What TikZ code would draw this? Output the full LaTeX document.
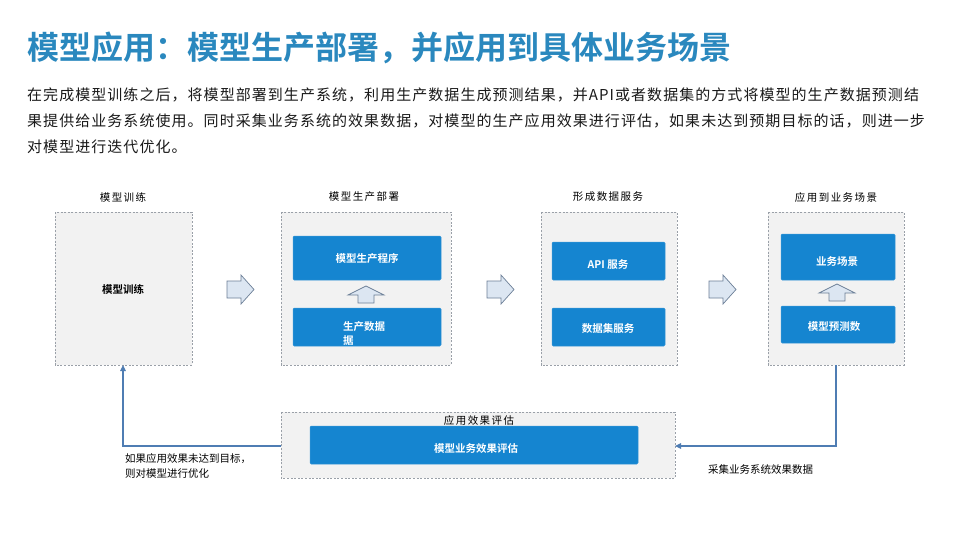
\documentclass[tikz,border=0pt]{standalone}
\usepackage{fontspec}
\setmainfont{Noto Sans CJK SC}
\newfontfamily\cjkb{Noto Sans CJK SC Bold}
\newfontfamily\cjksp[LetterSpace=7]{Noto Sans CJK SC}
\newfontfamily\cjkwide[LetterSpace=14]{Noto Sans CJK SC}
\usetikzlibrary{arrows.meta}
\definecolor{titleblue}{HTML}{2A88BE}
\definecolor{boxblue}{HTML}{1585D0}
\definecolor{panelfill}{HTML}{F2F2F2}
\definecolor{dashgray}{HTML}{9AA0A8}
\definecolor{linkblue}{HTML}{4F7DB3}
\definecolor{arrowfill}{HTML}{DCE6F2}
\definecolor{arrowedge}{HTML}{6C7F97}
\definecolor{bodytext}{HTML}{1A1A1A}
\begin{document}
\begin{tikzpicture}[x=1pt,y=-1pt,
  panel/.style={draw=dashgray,fill=panelfill,dash pattern=on 2pt off 1.6pt,line width=0.6pt},
  bluebox/.style={fill=boxblue,draw=boxblue!85!white,rounded corners=1.2pt,line width=0.5pt},
  boxtext/.style={text=white,font=\cjkb\fontsize{10.5}{12}\selectfont},
  paneltitle/.style={text=black,font=\cjkwide\fontsize{10.5}{12}\selectfont},
  note/.style={text=black,font=\fontsize{10.5}{15}\selectfont,align=left},
  blockarrow/.style={draw=arrowedge,fill=arrowfill,line width=0.7pt,line join=miter},
  link/.style={draw=linkblue,line width=1.1pt,-{Triangle[length=6pt,width=5.5pt]}}]
\useasboundingbox (0,0) rectangle (960,539);
\fill[white] (0,0) rectangle (960,539);
% title
\node[anchor=west,text=titleblue,font=\cjkb\fontsize{32}{36}\selectfont] (title) at (24,48) {模型应用：模型生产部署，并应用到具体业务场景};
% paragraph
\node[anchor=north west,text=bodytext,font=\cjksp\fontsize{15}{26}\selectfont,align=left,inner sep=0pt] (para) at (27,87.5)
{在完成模型训练之后，将模型部署到生产系统，利用生产数据生成预测结果，并API或者数据集的方式将模型的生产数据预测结\\
果提供给业务系统使用。同时采集业务系统的效果数据，对模型的生产应用效果进行评估，如果未达到预期目标的话，则进一步\\
对模型进行迭代优化。};
% panels
\draw[panel] (55,212) rectangle (192,365);
\coordinate (p1s) at (123,365);
\draw[panel] (281,212) rectangle (451,365);
\draw[panel] (541,212) rectangle (677,365);
\draw[panel] (768,212) rectangle (904,365);
\coordinate (p4s) at (836,365);
\draw[panel] (281,412) rectangle (675,478);
\coordinate (p5w) at (281,446);
\coordinate (p5e) at (675,446);
% panel titles
\node[paneltitle] (t1) at (123,197) {模型训练};
\node[paneltitle] (t2) at (364,197) {模型生产部署};
\node[paneltitle] (t3) at (608,197) {形成数据服务};
\node[paneltitle] (t4) at (836,197) {应用到业务场景};
\node[paneltitle] (t5) at (479,420) {应用效果评估};
% panel 1 text
\node[text=black,font=\cjkb\fontsize{10.5}{12}\selectfont] (train) at (123,289) {模型训练};
% blue boxes
\draw[bluebox] (293,236) rectangle (441,280);
\node[boxtext] (b21) at (367,259) {模型生产程序};
\draw[bluebox] (293,308) rectangle (441,346);
\node[boxtext,anchor=north west,align=left,inner sep=0pt,font=\cjkb\fontsize{10.5}{14.5}\selectfont] (b22) at (343,321) {生产数据\\据};
\draw[bluebox] (552,242) rectangle (665,280);
\node[boxtext] (b31) at (608,265) {API 服务};
\draw[bluebox] (552,308) rectangle (665,346);
\node[boxtext] (b32) at (608,328) {数据集服务};
\draw[bluebox] (781,234) rectangle (895,280);
\node[boxtext] (b41) at (837,261) {业务场景};
\draw[bluebox] (781,306) rectangle (895,343);
\node[boxtext] (b42) at (834,327) {模型预测数};
\draw[bluebox] (310,426) rectangle (638,464);
\node[boxtext] (b5) at (476,449) {模型业务效果评估};
% right block arrows
\foreach \x in {227,487,709}{
  \draw[blockarrow] (\x,281) -- (\x+14,281) -- (\x+14,275) -- (\x+27,289.5) -- (\x+14,304) -- (\x+14,298) -- (\x,298) -- cycle;
}
% up block arrows
\foreach \x/\y in {366/286,837/284}{
  \draw[blockarrow] (\x-8,\y+17) -- (\x-8,\y+9) -- (\x-18,\y+9) -- (\x,\y) -- (\x+18,\y+9) -- (\x+8,\y+9) -- (\x+8,\y+17) -- cycle;
}
% connectors
\draw[link] (p4s) |- (p5e);
\draw[link] (p5w) -| (p1s);
% notes
\node[note,anchor=north west,inner sep=0pt] (n1) at (125,453) {如果应用效果未达到目标，\\则对模型进行优化};
\node[note,anchor=west,inner sep=0pt] (n2) at (708,469) {采集业务系统效果数据};
\end{tikzpicture}
\end{document}
